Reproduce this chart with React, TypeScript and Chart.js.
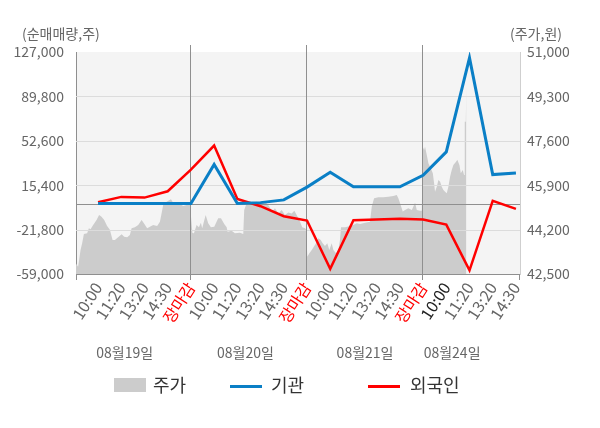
import React, { useEffect, useRef } from 'react';
import { Chart, registerables } from 'chart.js';

Chart.register(...registerables);

const FONT = "'Noto Sans CJK KR', 'Noto Sans', sans-serif";

// x categories (intraday checkpoints over four sessions)
const timeLabels = [
  '10:00', '11:20', '13:20', '14:30', '장마감',
  '10:00', '11:20', '13:20', '14:30', '장마감',
  '10:00', '11:20', '13:20', '14:30', '장마감',
  '10:00', '11:20', '13:20', '14:30',
];
const dayLabels = ['08월19일', '08월20일', '08월21일', '08월24일'];
const dayLabelPos = [0.43, 1.47, 2.5, 3.25];
const dayBreaks = [1, 2, 3];

// 순매매량 (shares)
const instVals = [0, 0, 0, 0, 0, 32700, 0, 800, 3100, 13800, 26200, 14000, 14000, 14000, 23700, 43300, 122100, 24300, 25700];
const foreignVals = [1100, 5600, 5000, 10300, 28500, 48600, 3800, -2200, -10600, -14200, -54700, -14000, -13400, -12800, -13400, -17600, -55900, 2300, -4400];

// 주가 (won), position in trading days
const priceT = [
  0.009, 0.028, 0.037, 0.049, 0.063, 0.078, 0.106, 0.121, 0.135, 0.158, 0.187, 0.209, 0.23, 0.253, 0.278, 0.302, 0.325, 0.345, 0.373, 0.403, 0.425,
  0.451, 0.474, 0.489, 0.517, 0.546, 0.575, 0.595, 0.623, 0.647, 0.675, 0.709, 0.733, 0.747, 0.761, 0.791, 0.828, 0.847, 0.891, 0.934, 0.963, 0.991,
  1.013, 1.026, 1.049, 1.069, 1.086, 1.097, 1.127, 1.149, 1.172, 1.201, 1.235, 1.259, 1.287, 1.308, 1.316, 1.351, 1.379, 1.422, 1.451, 1.459,
  1.48, 1.523, 1.566, 1.595, 1.638, 1.666, 1.701, 1.724, 1.753, 1.782, 1.81, 1.839, 1.868, 1.891, 1.911, 1.94, 1.959, 1.983, 1.991,
  2.003, 2.02, 2.041, 2.06, 2.078, 2.097, 2.118, 2.135, 2.155, 2.175, 2.192, 2.213, 2.227, 2.25, 2.27, 2.284, 2.293, 2.328, 2.371, 2.399, 2.428,
  2.457, 2.5, 2.543, 2.558, 2.578, 2.615, 2.658, 2.701, 2.744, 2.773, 2.787, 2.802, 2.825, 2.845, 2.873, 2.903, 2.931, 2.946, 2.974, 2.989,
  2.997, 3.009, 3.017, 3.032, 3.046, 3.066, 3.084, 3.095, 3.103, 3.118, 3.132, 3.147, 3.161, 3.175, 3.19, 3.204, 3.218, 3.233, 3.247, 3.261,
  3.284, 3.295, 3.313, 3.325, 3.342, 3.353, 3.359, 3.368, 3.373,
];
const priceVals = [
  42910, 42780, 43040, 43420, 43680, 44030, 44060, 44250, 44210, 44380, 44570, 44760, 44690, 44570, 44340, 44190, 43800, 43800, 43910, 44020, 43930,
  43910, 43990, 44250, 44290, 44380, 44570, 44440, 44250, 44310, 44380, 44340, 44500, 44820, 45140, 45270, 45360, 45230, 45210, 45100, 45140, 45210,
  44070, 44060, 44380, 44290, 44460, 44250, 44760, 44440, 44290, 44310, 44630, 44630, 44410, 44290, 44120, 44160, 44060, 44080, 44030, 44950,
  45210, 45230, 45270, 45210, 45270, 45140, 44890, 45020, 44820, 44950, 44760, 44850, 44820, 44920, 44760, 44500, 44290, 44250, 44210,
  43160, 43290, 43420, 43550, 43680, 43870, 43800, 43680, 43570, 43680, 43420, 43680, 43420, 43290, 43420, 43800, 44290, 44290, 44340, 44380, 44440,
  44410, 44460, 44500, 45080, 45400, 45440, 45440, 45460, 45490, 45520, 45400, 45210, 44890, 44950, 45020, 44950, 45230, 44950, 44920, 44920,
  47370, 47250, 47370, 47060, 46740, 46550, 46360, 45970, 45650, 45840, 46100, 46030, 45840, 45720, 45650, 45590, 45840, 46230, 46480, 46670,
  46800, 46870, 46670, 46360, 46480, 46290, 48330, 48330, 49740,
];

const volTicks = [-59000, -21800, 15400, 52600, 89800, 127000];
const priceTicks = [42500, 44200, 45900, 47600, 49300, 51000];

const slotX = timeLabels.map((_, i) => (i + 1) / 5);

const decorPlugin = {
  id: 'decor',
  beforeDraw(chart: any) {
    const { ctx, chartArea: a } = chart;
    ctx.save();
    ctx.fillStyle = '#f4f4f4';
    ctx.fillRect(a.left, a.top, a.right - a.left, a.bottom - a.top);
    ctx.restore();
  },
  afterDatasetDraw(chart: any, args: any) {
    if (args.index !== 0) return;
    const { ctx, chartArea: a, scales } = chart;
    const line = (x1: number, y1: number, x2: number, y2: number) => {
      ctx.beginPath();
      ctx.moveTo(x1, y1);
      ctx.lineTo(x2, y2);
      ctx.stroke();
    };
    ctx.save();
    ctx.lineWidth = 1;
    ctx.strokeStyle = '#dcdcdc';
    volTicks.slice(1, -1).forEach((v) => {
      const py = Math.round(scales.y.getPixelForValue(v)) + 0.5;
      line(a.left, py, a.right, py);
    });
    ctx.strokeStyle = '#8f8f8f';
    const zy = Math.round(scales.y.getPixelForValue(0)) + 0.5;
    line(a.left, zy, a.right, zy);
    dayBreaks.forEach((d) => {
      const px = Math.round(scales.x.getPixelForValue(d)) - 0.5;
      line(px, a.top - 7, px, a.bottom + 6);
    });
    ctx.restore();
  },
  afterDraw(chart: any) {
    const { ctx, chartArea: a, scales } = chart;
    ctx.save();
    ctx.strokeStyle = '#8f8f8f';
    ctx.lineWidth = 1;
    [a.left + 0.5, a.right - 0.5].forEach((px) => {
      ctx.beginPath();
      ctx.moveTo(px, a.bottom);
      ctx.lineTo(px, a.bottom + 6);
      ctx.stroke();
    });

    ctx.fillStyle = '#666';
    ctx.font = `14px ${FONT}`;
    ctx.textBaseline = 'middle';
    ctx.textAlign = 'left';
    ctx.fillText('(순매매량,주)', 22, 34);
    ctx.textAlign = 'right';
    ctx.fillText('(주가,원)', 562, 34);

    ctx.textAlign = 'center';
    dayLabels.forEach((lbl, i) => {
      ctx.fillText(lbl, scales.x.getPixelForValue(dayLabelPos[i]), 353);
    });

    // legend
    ctx.font = `18px ${FONT}`;
    ctx.textAlign = 'left';
    ctx.fillStyle = '#cccccc';
    ctx.fillRect(114, 378, 32, 14);
    ctx.fillStyle = '#333';
    ctx.fillText('주가', 153, 385);
    ctx.lineWidth = 3;
    ctx.strokeStyle = '#0a7fc6';
    ctx.beginPath();
    ctx.moveTo(230, 386.5);
    ctx.lineTo(262, 386.5);
    ctx.stroke();
    ctx.fillText('기관', 271, 385);
    ctx.strokeStyle = '#ff0000';
    ctx.beginPath();
    ctx.moveTo(368, 386.5);
    ctx.lineTo(400, 386.5);
    ctx.stroke();
    ctx.fillText('외국인', 410, 385);
    ctx.restore();
  },
};

export default function App() {
  const canvasRef = useRef<HTMLCanvasElement>(null);

  useEffect(() => {
    if (!canvasRef.current) return;
    const chart = new Chart(canvasRef.current, {
      type: 'line',
      data: {
        datasets: [
          {
            label: '주가',
            data: priceT.map((t, i) => ({ x: t, y: priceVals[i] })),
            yAxisID: 'y1',
            borderWidth: 0,
            pointRadius: 0,
            backgroundColor: '#cccccc',
            fill: 'start',
            order: 3,
          },
          {
            label: '외국인',
            data: slotX.map((x, i) => ({ x, y: foreignVals[i] })),
            yAxisID: 'y',
            borderColor: '#ff0000',
            borderWidth: 2.5,
            pointRadius: 0,
            fill: false,
            order: 2,
          },
          {
            label: '기관',
            data: slotX.map((x, i) => ({ x, y: instVals[i] })),
            yAxisID: 'y',
            borderColor: '#0a7fc6',
            borderWidth: 3,
            pointRadius: 0,
            fill: false,
            order: 1,
          },
        ],
      },
      options: {
        animation: false,
        responsive: true,
        maintainAspectRatio: false,
        layout: { padding: { top: 52, left: 0, right: 0, bottom: 0 } },
        plugins: {
          legend: { display: false },
          tooltip: { enabled: false },
        },
        scales: {
          x: {
            type: 'linear',
            min: 0.01,
            max: 3.835,
            afterBuildTicks: (scale: any) => {
              scale.ticks = slotX.map((v) => ({ value: v }));
            },
            afterFit: (scale: any) => {
              scale.height = 154;
            },
            grid: { display: false, drawTicks: false },
            border: { color: '#8f8f8f' },
            ticks: {
              autoSkip: false,
              maxRotation: 57,
              minRotation: 57,
              padding: 5,
              font: { family: FONT, size: 16 },
              color: (ctx: any) =>
                timeLabels[ctx.index] === '장마감' ? '#ff0000' : ctx.index === 15 ? '#222222' : '#666666',
              callback: (_v: any, i: number) => timeLabels[i],
            },
          },
          y: {
            type: 'linear',
            position: 'left',
            min: volTicks[0],
            max: volTicks[volTicks.length - 1],
            afterBuildTicks: (scale: any) => {
              scale.ticks = volTicks.map((v) => ({ value: v }));
            },
            afterFit: (scale: any) => {
              scale.width = 76;
            },
            grid: { display: false, drawTicks: false },
            border: { color: '#8f8f8f' },
            ticks: {
              padding: 12,
              color: '#666',
              font: { family: FONT, size: 14 },
              callback: (v: any) => Number(v).toLocaleString('en-US'),
            },
          },
          y1: {
            type: 'linear',
            position: 'right',
            min: priceTicks[0],
            max: priceTicks[priceTicks.length - 1],
            afterBuildTicks: (scale: any) => {
              scale.ticks = priceTicks.map((v) => ({ value: v }));
            },
            afterFit: (scale: any) => {
              scale.width = 80;
            },
            grid: { display: false, drawTicks: false },
            border: { color: '#cfcfcf' },
            ticks: {
              padding: 7,
              color: '#666',
              font: { family: FONT, size: 14 },
              callback: (v: any) => Number(v).toLocaleString('en-US'),
            },
          },
        },
      },
      plugins: [decorPlugin],
    });
    return () => chart.destroy();
  }, []);

  return (
    <div style={{ position: 'fixed', left: 0, top: 0, width: 600, height: 428, background: '#fff' }}>
      <canvas ref={canvasRef} />
    </div>
  );
}
